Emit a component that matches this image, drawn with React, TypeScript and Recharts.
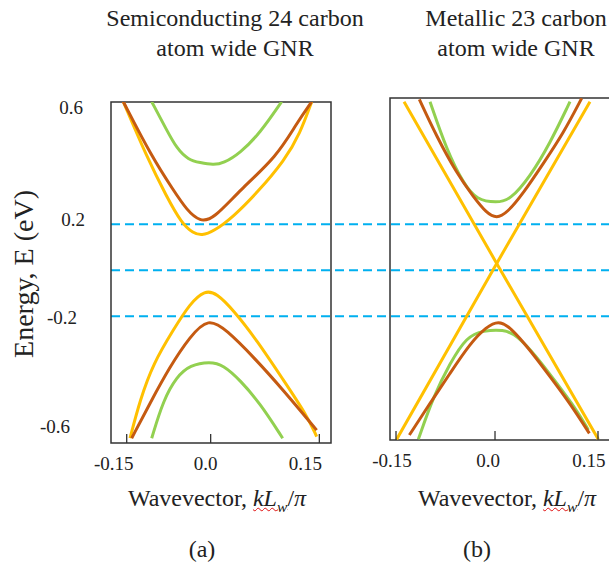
import React from "react";
import { Line, LineChart, ReferenceArea, ReferenceLine, XAxis, YAxis } from "recharts";

type Pt = [number, number]; // [k (kLw/pi), E (eV)]

// (a) semiconducting 24 carbon atom wide GNR
const semiCondGreen: Pt[] = [[-0.0819, 0.733], [-0.0611, 0.61], [-0.0472, 0.53], [-0.031, 0.48], [-0.0148, 0.468], [0.0037, 0.458], [0.0176, 0.465], [0.0407, 0.509], [0.0685, 0.596], [0.0986, 0.733]];
const semiCondBrown: Pt[] = [[-0.1213, 0.733], [-0.0819, 0.494], [-0.0519, 0.349], [-0.0333, 0.262], [-0.0148, 0.211], [0.0037, 0.222], [0.0407, 0.349], [0.0917, 0.494], [0.1194, 0.639], [0.1403, 0.733]];
const semiCondYellow: Pt[] = [[-0.1213, 0.733], [-0.0889, 0.494], [-0.0611, 0.32], [-0.0403, 0.204], [-0.0241, 0.161], [-0.0125, 0.151], [0.0037, 0.168], [0.0315, 0.233], [0.0639, 0.335], [0.1032, 0.48], [0.1241, 0.595], [0.1403, 0.733]];
const semiValYellow: Pt[] = [[-0.112, -0.73], [-0.0981, -0.564], [-0.0796, -0.404], [-0.0519, -0.259], [-0.0287, -0.144], [-0.0079, -0.086], [0.0083, -0.1], [0.0315, -0.173], [0.0639, -0.303], [0.1009, -0.477], [0.1333, -0.629], [0.1472, -0.723]];
const semiValBrown: Pt[] = [[-0.1097, -0.73], [-0.0843, -0.578], [-0.0565, -0.418], [-0.0287, -0.288], [-0.0032, -0.206], [0.0222, -0.26], [0.0593, -0.376], [0.1009, -0.521], [0.1472, -0.695]];
const semiValGreen: Pt[] = [[-0.0819, -0.73], [-0.0657, -0.564], [-0.0472, -0.463], [-0.0287, -0.412], [-0.0009, -0.397], [0.0176, -0.412], [0.0407, -0.477], [0.0685, -0.578], [0.1, -0.73]];

// (b) metallic 23 carbon atom wide GNR
const metCondGreen: Pt[] = [[-0.0963, 0.733], [-0.0716, 0.523], [-0.0469, 0.378], [-0.0272, 0.305], [0.0025, 0.294], [0.0222, 0.305], [0.0519, 0.407], [0.0815, 0.552], [0.1111, 0.733]];
const metCondBrown: Pt[] = [[-0.1121, 0.743], [-0.0864, 0.581], [-0.0568, 0.422], [-0.0321, 0.32], [-0.0123, 0.248], [0.0025, 0.226], [0.0173, 0.248], [0.042, 0.335], [0.0716, 0.465], [0.1012, 0.596], [0.1284, 0.748]];
const metLinearDown: Pt[] = [[-0.1348, 0.733], [0.0025, 0.03], [0.1531, -0.735]];
const metLinearUp: Pt[] = [[-0.1457, -0.735], [0.0025, 0.03], [0.1407, 0.733]];
const metValBrown: Pt[] = [[-0.1269, -0.716], [-0.0963, -0.578], [-0.0667, -0.448], [-0.037, -0.318], [-0.0123, -0.245], [0.0049, -0.219], [0.0222, -0.245], [0.0519, -0.346], [0.0815, -0.462], [0.1111, -0.578], [0.1398, -0.709]];
const metValGreen: Pt[] = [[-0.1136, -0.735], [-0.0914, -0.549], [-0.0667, -0.404], [-0.042, -0.288], [-0.0173, -0.262], [0.0123, -0.257], [0.0321, -0.281], [0.0617, -0.375], [0.0914, -0.491], [0.121, -0.607], [0.1383, -0.694]];

const guideLevels = [0.2, 0, -0.2];

const kTickLabels = ["-0.15", "0.0", "0.15"];
const kTicksA = [-0.1166, 0, 0.1509];
const kTicksB = [-0.1467, 0, 0.1526];
const eTickLabels = ["0.6", "0.2", "-0.2", "-0.6"];
const eTicksA = [0.708, 0.22, -0.205, -0.676];

// label nudges (the original figure's labels sit off their ticks)
const kShiftA = [-13, -5, -14];
const kShiftB = [-4, -7, -9];
const eShiftA = [-28, -26, -34, -41];

const SERIF = '"Liberation Serif", "Times New Roman", serif';
const INK = "#222";
const FRAME = "#333";
const GREEN = "#92D050";
const BROWN = "#C55A11";
const YELLOW = "#FFC000";
const BLUE = "#00B0F0";

const domA = { k: [-0.1384, 0.1671], e: [-0.7509, 0.7317] };
const domB = { k: [-0.1556, 0.1852], e: [-0.7378, 0.7491] };

const toRows = (pts: Pt[]) => pts.map(([k, e]) => ({ k, e }));

function BottomTick(props: any) {
    const { x, y, index, shifts } = props;
    return (
        <g>
            <line x1={x} y1={y} x2={x} y2={y - 9} stroke={FRAME} strokeWidth={1.3} />
            <text x={x + shifts[index]} y={y + 20} dy="0.355em" textAnchor="middle" fontSize={19} fontFamily={SERIF} fill={INK}>
                {kTickLabels[index]}
            </text>
        </g>
    );
}

function LeftTick(props: any) {
    const { x, y, index } = props;
    return (
        <text x={x + eShiftA[index]} y={y} dy="0.355em" textAnchor="end" fontSize={19} fontFamily={SERIF} fill={INK}>
            {eTickLabels[index]}
        </text>
    );
}

function Band({ pts, color, straight }: { pts: Pt[]; color: string; straight?: boolean }) {
    return (
        <Line
            data={toRows(pts)}
            dataKey="e"
            type={straight ? "linear" : "basis"}
            stroke={color}
            strokeWidth={3}
            dot={false}
            activeDot={false}
            isAnimationActive={false}
        />
    );
}

function Label({ left, top, width, size, children }: any) {
    return (
        <div
            style={{
                position: "absolute",
                left,
                top,
                width,
                textAlign: "center",
                fontFamily: SERIF,
                fontSize: size,
                lineHeight: "30px",
                color: INK,
                whiteSpace: "nowrap",
            }}
        >
            {children}
        </div>
    );
}

function WaveLabel() {
    return (
        <span>
            Wavevector,{" "}
            <span style={{ textDecoration: "underline wavy #e01010", textDecorationThickness: 1 }}>
                <i>kL</i>
                <sub style={{ fontSize: "0.65em", lineHeight: 0 }}>
                    <i>w</i>
                </sub>
            </span>
            /<i>π</i>
        </span>
    );
}

export default function App() {
    return (
        <div style={{ position: "absolute", left: 0, top: 0, width: 609, height: 565, overflow: "hidden", background: "#fff" }}>
            {/* dashed guide levels running across both panels */}
            <div style={{ position: "absolute", left: 0, top: 0 }}>
                <LineChart width={640} height={480} data={[{ k: 0 }, { k: 1 }]} margin={{ top: 102, right: 0, bottom: 37, left: 111 }}>
                    <XAxis dataKey="k" type="number" domain={[0, 1]} hide />
                    <YAxis type="number" domain={domA.e} allowDataOverflow hide />
                    {guideLevels.map((v) => (
                        <ReferenceLine key={v} y={v} stroke={BLUE} strokeWidth={2} strokeDasharray="9 5" />
                    ))}
                </LineChart>
            </div>

            <div style={{ position: "absolute", left: 0, top: 0 }}>
                <LineChart width={340} height={480} margin={{ top: 102, right: 9, bottom: 0, left: 0 }}>
                    <XAxis
                        dataKey="k"
                        type="number"
                        domain={domA.k}
                        allowDataOverflow
                        ticks={kTicksA}
                        interval={0}
                        height={37}
                        axisLine={false}
                        tickLine={false}
                        tickSize={0}
                        tickMargin={0}
                        tick={(p: any) => <BottomTick {...p} shifts={kShiftA} />}
                    />
                    <YAxis
                        type="number"
                        domain={domA.e}
                        allowDataOverflow
                        ticks={eTicksA}
                        interval={0}
                        width={111}
                        axisLine={false}
                        tickLine={false}
                        tickSize={0}
                        tickMargin={0}
                        tick={(p: any) => <LeftTick {...p} />}
                    />
                    {Band({ pts: semiCondGreen, color: GREEN })}
                    {Band({ pts: semiCondYellow, color: YELLOW })}
                    {Band({ pts: semiCondBrown, color: BROWN })}
                    {Band({ pts: semiValGreen, color: GREEN })}
                    {Band({ pts: semiValYellow, color: YELLOW })}
                    {Band({ pts: semiValBrown, color: BROWN })}
                    <ReferenceArea x1={domA.k[0]} x2={domA.k[1]} y1={domA.e[0]} y2={domA.e[1]} fill="none" stroke={FRAME} strokeWidth={1.5} />
                </LineChart>
            </div>

            <div style={{ position: "absolute", left: 330, top: 0 }}>
                <LineChart width={300} height={480} margin={{ top: 98, right: 10, bottom: 0, left: 60 }}>
                    <XAxis
                        dataKey="k"
                        type="number"
                        domain={domB.k}
                        allowDataOverflow
                        ticks={kTicksB}
                        interval={0}
                        height={40}
                        axisLine={false}
                        tickLine={false}
                        tickSize={0}
                        tickMargin={0}
                        tick={(p: any) => <BottomTick {...p} shifts={kShiftB} />}
                    />
                    <YAxis type="number" domain={domB.e} allowDataOverflow hide />
                    {Band({ pts: metCondGreen, color: GREEN })}
                    {Band({ pts: metCondBrown, color: BROWN })}
                    {Band({ pts: metValGreen, color: GREEN })}
                    {Band({ pts: metValBrown, color: BROWN })}
                    {Band({ pts: metLinearDown, color: YELLOW, straight: true })}
                    {Band({ pts: metLinearUp, color: YELLOW, straight: true })}
                    <ReferenceArea x1={domB.k[0]} x2={domB.k[1]} y1={domB.e[0]} y2={domB.e[1]} fill="none" stroke={FRAME} strokeWidth={1.5} />
                </LineChart>
            </div>

            <Label left={95} top={3} width={280} size={24}>
                Semiconducting 24 carbon
                <br />
                atom wide GNR
            </Label>
            <Label left={396} top={3} width={240} size={24}>
                Metallic 23 carbon
                <br />
                atom wide GNR
            </Label>

            <div
                style={{
                    position: "absolute",
                    left: 24 - 150,
                    top: 274 - 20,
                    width: 300,
                    height: 40,
                    lineHeight: "40px",
                    textAlign: "center",
                    transform: "rotate(-90deg)",
                    fontFamily: SERIF,
                    fontSize: 28,
                    color: INK,
                    whiteSpace: "nowrap",
                }}
            >
                Energy, E (eV)
            </div>

            <Label left={217 - 120} top={483} width={240} size={24}>
                <WaveLabel />
            </Label>
            <Label left={507 - 120} top={483} width={240} size={24}>
                <WaveLabel />
            </Label>

            <Label left={202 - 40} top={534} width={80} size={24}>
                (a)
            </Label>
            <Label left={477 - 40} top={534} width={80} size={24}>
                (b)
            </Label>
        </div>
    );
}
